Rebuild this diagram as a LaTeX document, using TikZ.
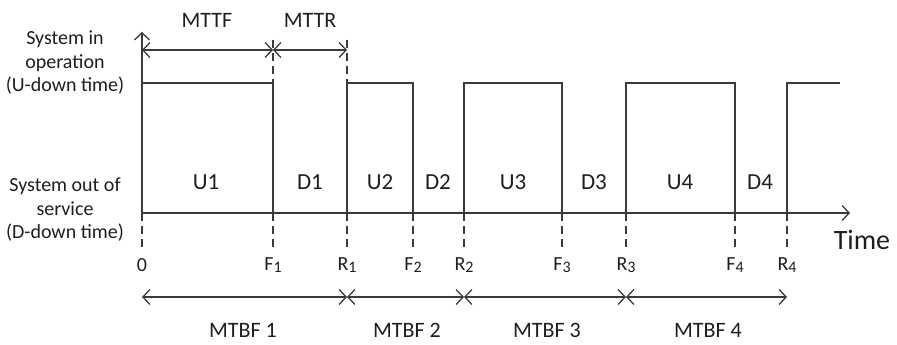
\documentclass[tikz,border=0pt]{standalone}
\usepackage{fontspec}
\setmainfont{Carlito}
\usetikzlibrary{arrows.meta}
\definecolor{ink}{HTML}{3A3A3A}
\definecolor{txt}{HTML}{1E1E1E}
\newcommand{\idx}[1]{\raisebox{-0.2ex}{\fontsize{16}{16}\selectfont #1}}
\tikzset{
  barb/.style={-{Straight Barb[length=7pt,width=15pt,line width=1.3pt]}},
  dimline/.style={{Straight Barb[length=7pt,width=15pt,line width=1.3pt]}-{Straight Barb[length=7pt,width=15pt,line width=1.3pt]}, line width=1.3pt, draw=ink},
  guide/.style={draw=ink, line width=1.3pt, dash pattern=on 8pt off 5pt},
  lbl/.style={text=txt, inner sep=0pt},
  side/.style={lbl, align=center, font=\fontsize{20}{23.5}\selectfont},
  state/.style={lbl, font=\fontsize{23}{27}\selectfont},
  tick/.style={lbl, font=\fontsize{20}{24}\selectfont},
  head/.style={lbl, font=\fontsize{22}{26}\selectfont},
}
\begin{document}
\begin{tikzpicture}[x=1pt,y=-1pt]
\useasboundingbox (0,0) rectangle (897,345);

\coordinate (top) at (0,83);
\coordinate (dn) at (0,250);
\foreach \n/\x in {O/142,F1/273,R1/347,F2/413,R2/464,F3/562,R3/626,F4/735,R4/787}
  \coordinate (\n) at (\x,213);
\coordinate (yend) at (142,32);
\coordinate (xend) at (850,213);
\coordinate (last) at (840,83);

\node[side] (sysup) at (65,63) {System in\\operation\\(U-down time)};
\node[side] (sysdown) at (65,210) {System out of\\service\\(D-down time)};

\draw[guide] (F1) ++(0,-173) -- (F1 |- top);
\draw[guide] (R1) ++(0,-173) -- (R1 |- top);
\foreach \n in {O,F1,R1,F2,R2,F3,R3,F4,R4}
  \draw[guide] (\n) -- (\n |- dn);

\draw[barb, draw=ink, line width=1.4pt] (O) -- (yend);
\draw[barb, draw=ink, line width=1.4pt] (O) -- (xend);

\draw[draw=ink, line width=2pt, line join=miter]
  (O |- top) -- (F1 |- top) -- (F1) -- (R1) -- (R1 |- top) -- (F2 |- top) -- (F2)
  -- (R2) -- (R2 |- top) -- (F3 |- top) -- (F3) -- (R3) -- (R3 |- top)
  -- (F4 |- top) -- (F4) -- (R4) -- (R4 |- top) -- (last);

\coordinate (mt) at (0,50);
\draw[dimline] (O |- mt) -- (F1 |- mt);
\draw[dimline] (F1 |- mt) -- (R1 |- mt);
\node[head] (mttf) at (207,20) {MTTF};
\node[head] (mttr) at (310,20) {MTTR};

\foreach \t/\x in {U1/206,D1/310,U2/380,D2/438,U3/513,D3/594,U4/680,D4/760}
  \node[state] (\t) at (\x,182) {\t};

\node[tick] (lO) at (O |- 0,265) {0};
\foreach \n/\c/\k in {F1/F/1,R1/R/1,F2/F/2,R2/R/2,F3/F/3,R3/R/3,F4/F/4,R4/R/4}
  \node[tick] (l\n) at (\n |- 0,265) {\c\idx{\k}};
\node[lbl, font=\fontsize{28}{32}\selectfont] (time) at (862,240) {Time};

\coordinate (mb) at (0,297);
\draw[dimline] (O |- mb) -- (R1 |- mb);
\draw[dimline] (R1 |- mb) -- (R2 |- mb);
\draw[dimline] (R2 |- mb) -- (R3 |- mb);
\draw[dimline] (R3 |- mb) -- (R4 |- mb);
\foreach \i/\x in {1/243,2/407,3/547,4/708}
  \node[head] (mtbf\i) at (\x,330) {MTBF \i};
\end{tikzpicture}
\end{document}
